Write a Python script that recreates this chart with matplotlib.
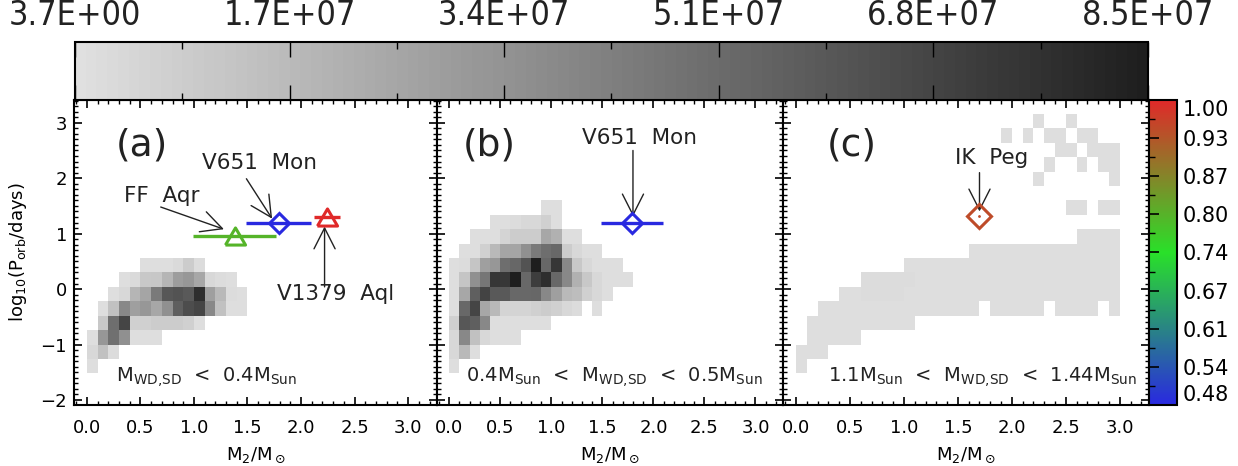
import numpy as np
import matplotlib
matplotlib.use('Agg')
import matplotlib.pyplot as plt
from matplotlib import font_manager as fm
from matplotlib.colors import ListedColormap, LinearSegmentedColormap, Normalize
from matplotlib.cm import ScalarMappable
from matplotlib.ticker import MultipleLocator, FixedLocator

plt.rcParams['font.family'] = ['DejaVu Sans']
plt.rcParams['mathtext.fontset'] = 'dejavusans'

# ---- binning of the 2D histograms ----
x_edges = np.linspace(0.0, 3.0, 31)                 # M2 bins, 0.1 wide
y_edges = -1.52 + 0.26 * np.arange(19)              # log10 Porb bins

# counts in units of 1e7, one list per log P row (from bottom), starting at column *_first
a_first = [0, 0, 0, 1, 1, 2, 3, 5]
a_counts = [
    [0.1],
    [0.35, 1.42, 0.18],
    [0.1, 3.19, 4.87, 3.54, 0.1, 0.1, 0.1],
    [1.06, 4.96, 6.73, 0.71, 0.71, 0.89, 0.89, 0.89, 0.71, 0.1],
    [0.1, 1.42, 3.9, 2.83, 3.19, 2.48, 3.54, 5.67, 6.38, 6.73, 3.9, 1.42, 0.1, 0.1],
    [0.1, 0.35, 1.9, 2.61, 4.5, 6.02, 6.15, 5.93, 7.79, 2.83, 1.77, 0.18, 0.1],
    [0.1, 0.27, 1.06, 1.15, 1.9, 2.92, 3.19, 2.48, 0.35, 0.18, 0.1],
    [0.1, 0.1, 0.1, 0.27, 0.89, 0.18],
]

b_first = [0, 0, 0, 0, 0, 0, 0, 0, 1, 2, 4, 9]
b_counts = [
    [0.1],
    [0.35, 1.77, 0.1],
    [0.35, 3.9, 1.42, 0.35, 0.1, 0.1, 0.1],
    [0.71, 6.02, 5.67, 3.9, 0.1, 0.1, 0.1, 0.1, 0.1, 0.1],
    [0.1, 5.22, 6.73, 2.48, 1.77, 0.53, 0.53, 0.53, 0.71, 0.89, 0.71, 0.35, 0.18, 0, 0.1],
    [0.1, 2.48, 5.67, 6.86, 5.93, 5.93, 5.22, 5.22, 5.31, 3.9, 2.83, 1.77, 1.59, 0.71, 0.35, 0.1],
    [0.1, 1.24, 3.54, 4.6, 7.44, 7.35, 8.5, 5.22, 7.08, 7.79, 5.22, 3.9, 2.12, 1.06, 0.35, 0.1, 0.1, 0.1],
    [0.1, 0.18, 1.24, 2.83, 3.19, 4.96, 5.31, 6.15, 8.5, 5.31, 7.44, 3.9, 1.06, 0.35, 0.1, 0.1, 0.1],
    [0.1, 0.1, 0.71, 1.77, 2.61, 2.61, 3.54, 4.5, 4.96, 5.22, 0.89, 0.35, 0.1, 0.1],
    [0.1, 0.1, 0.1, 0.53, 0.89, 0.89, 0.89, 2.48, 2.12, 0.1, 0.1],
    [0.1, 0.1, 0.18, 0.35, 0.35, 0.71, 0.1],
    [0.1, 0.1],
]

# panel (c): occupied column runs per row, all at the lowest level
c_runs = [
    [(0, 0)], [(0, 2)], [(1, 5)], [(1, 10)],
    [(2, 16), (18, 22), (24, 27), (29, 29)],
    [(4, 29)], [(6, 29)], [(10, 29)], [(16, 29)], [(26, 29)],
    [], [(25, 26), (28, 29)], [], [(22, 22), (29, 29)],
    [(23, 23), (26, 26), (28, 29)], [(24, 25), (27, 29)],
    [(19, 19), (21, 21), (23, 24), (26, 27)], [(22, 22), (25, 25)],
]
c_level = 0.1
c_darker = [(5, 6), (5, 7), (5, 8), (5, 9), (6, 6), (6, 7), (6, 8), (6, 9), (6, 10)]

# ---- observed systems ----
obj_names = ['FF  Aqr', 'V651  Mon', 'V1379  Aql', 'IK  Peg']
obj_m2 = [1.38, 1.79, 2.24, 1.70]
obj_m2err = [0.39, 0.30, 0.12, 0.0]
obj_logp = [0.96, 1.20, 1.30, 1.32]
obj_cval = [0.80, 0.476, 1.0, 0.95]
obj_marker = ['tri', 'D', 'tri', 'D']

cnt_vmin, cnt_vmax = 3.7, 8.5e7
mass_vmin, mass_vmax = 0.476, 1.0
mass_ticklabels = ['0.48', '0.54', '0.61', '0.67', '0.74', '0.80', '0.87', '0.93', '1.00']
panel_tags = ['(a)', '(b)', '(c)']
panel_notes = [r'M$_{\rm WD{,}SD}$  <  0.4M$_{\rm Sun}$',
               r'0.4M$_{\rm Sun}$  <  M$_{\rm WD{,}SD}$  <  0.5M$_{\rm Sun}$',
               r'1.1M$_{\rm Sun}$  <  M$_{\rm WD{,}SD}$  <  1.44M$_{\rm Sun}$']


def build_grid(first, counts):
    g = np.full((len(y_edges) - 1, len(x_edges) - 1), np.nan)
    for k, (c0, row) in enumerate(zip(first, counts)):
        for j, v in enumerate(row):
            if v > 0:
                g[k, c0 + j] = v * 1e7
    return g


grid_a = build_grid(a_first, a_counts)
grid_b = build_grid(b_first, b_counts)
grid_c = np.full((len(y_edges) - 1, len(x_edges) - 1), np.nan)
for k, runs in enumerate(c_runs):
    for c0, c1 in runs:
        grid_c[k, c0:c1 + 1] = c_level * 1e7
for k, c in c_darker:
    grid_c[k, c] = 0.2e7

levels = np.linspace(224, 30, 100) / 255.0
gray_cmap = ListedColormap([(l, l, l) for l in levels])
cnt_norm = Normalize(cnt_vmin, cnt_vmax)
mass_cmap = LinearSegmentedColormap.from_list(
    'bgr', [(0.16, 0.16, 0.88), (0.16, 0.88, 0.16), (0.88, 0.16, 0.16)])
mass_norm = Normalize(mass_vmin, mass_vmax)

# narrow font for the big colour bar labels, if one is installed
names = set(f.name for f in fm.fontManager.ttflist)
condensed = [f for f in fm.fontManager.ttflist if f.name == 'DejaVu Sans' and 'ondensed' in f.fname]
if 'Liberation Sans Narrow' in names:
    top_font, top_size, top_stretch = 'Liberation Sans Narrow', 26, 'normal'
elif condensed:
    top_font, top_size, top_stretch = 'DejaVu Sans', 24.5, 'condensed'
else:
    top_font, top_size, top_stretch = 'DejaVu Sans', 19.5, 'normal'

W, H = 1238, 466
fig = plt.figure(figsize=(W / 100, H / 100), dpi=100)


def box(x0, x1, y0, y1):
    return [x0 / W, 1 - y1 / H, (x1 - x0) / W, (y1 - y0) / H]


axa = fig.add_axes(box(74, 437, 100, 405))
axb = fig.add_axes(box(437, 783, 100, 405))
axc = fig.add_axes(box(783, 1149, 100, 405))
cax_r = fig.add_axes(box(1149, 1177, 100, 405))
cax_t = fig.add_axes(box(75, 1148, 42, 100))

txt = '#222222'
for i, (ax, grid) in enumerate(zip([axa, axb, axc], [grid_a, grid_b, grid_c])):
    ax.pcolormesh(x_edges, y_edges, np.ma.masked_invalid(grid), cmap=gray_cmap, norm=cnt_norm)
    ax.set_xlim(-0.12, 3.27)
    ax.set_ylim(-2.09, 3.41)
    ax.xaxis.set_major_locator(MultipleLocator(0.5))
    ax.xaxis.set_minor_locator(MultipleLocator(0.1))
    ax.yaxis.set_major_locator(MultipleLocator(1))
    ax.yaxis.set_minor_locator(MultipleLocator(0.1))
    ax.tick_params(which='both', direction='in', top=True, right=True, colors='black')
    ax.tick_params(which='major', length=6, width=1.2)
    ax.tick_params(which='minor', length=3, width=1.0)
    ax.tick_params(axis='x', labelsize=13, pad=10)
    ax.tick_params(axis='y', labelsize=13, pad=5)
    ax.xaxis.set_major_formatter(plt.FormatStrFormatter('%.1f'))
    for s in ax.spines.values():
        s.set_linewidth(1.5)
    if i > 0:
        ax.tick_params(axis='y', labelleft=False)
    ax.set_xlabel(r'M$_2$/M$_\odot$', fontsize=13, labelpad=6)
    ax.text([0.51, 0.39, 0.52][i], 2.59, panel_tags[i], fontsize=27, color=txt,
            ha='center', va='center')

axa.set_ylabel(r'log$_{10}$(P$_{\rm orb}$/days)', fontsize=13, labelpad=8)
axa.yaxis.set_major_formatter(plt.FuncFormatter(lambda v, p: '%d' % v if v >= 0 else '\u2212%d' % -v))

# notes at the bottom
axa.text(0.27, -1.59, panel_notes[0], fontsize=14, color=txt, ha='left', va='center')
axb.text(0.16, -1.59, panel_notes[1], fontsize=14, color=txt, ha='left', va='center')
axc.text(0.30, -1.59, panel_notes[2], fontsize=14, color=txt, ha='left', va='center')

# triangle centred on its data point
tri_marker = [(-1, -0.85), (1, -0.85), (0, 0.85), (-1, -0.85)]


def draw_obj(ax, j, size):
    col = mass_cmap(mass_norm(obj_cval[j]))
    if obj_m2err[j] > 0:
        ax.errorbar(obj_m2[j], obj_logp[j], xerr=obj_m2err[j], fmt='none', ecolor=col,
                    elinewidth=2.4, capsize=0, zorder=4)
    mk = tri_marker if obj_marker[j] == 'tri' else obj_marker[j]
    ax.plot(obj_m2[j], obj_logp[j], marker=mk, ms=size, mfc='none', mec=col,
            mew=2.2, ls='none', zorder=5)


arrow_kw = dict(arrowstyle='->,head_length=0.75,head_width=0.38', color='#222222', lw=1.0,
                mutation_scale=20, shrinkA=0, shrinkB=0)

# panel (a)
draw_obj(axa, 0, 14.5)
draw_obj(axa, 1, 10.5)
draw_obj(axa, 2, 14.5)
axa.text(0.70, 1.67, obj_names[0], fontsize=15.5, color=txt, ha='center', va='center')
axa.annotate('', xy=(1.28, 1.08), xytext=(0.69, 1.48), arrowprops=arrow_kw)
axa.text(1.61, 2.28, obj_names[1], fontsize=15.5, color=txt, ha='center', va='center')
axa.annotate('', xy=(1.73, 1.27), xytext=(1.49, 1.99), arrowprops=arrow_kw)
axa.text(2.32, -0.09, obj_names[2], fontsize=15.5, color=txt, ha='center', va='center')
axa.annotate('', xy=(2.22, 1.13), xytext=(2.22, 0.04), arrowprops=arrow_kw)

# panel (b)
draw_obj(axb, 1, 10.5)
axb.text(1.86, 2.73, obj_names[1], fontsize=15.5, color=txt, ha='center', va='center')
axb.annotate('', xy=(1.80, 1.31), xytext=(1.80, 2.50), arrowprops=arrow_kw)

# panel (c)
draw_obj(axc, 3, 12)
axc.plot(obj_m2[3], obj_logp[3], marker='.', ms=2, color=mass_cmap(mass_norm(obj_cval[3])), zorder=6)
axc.text(1.81, 2.37, obj_names[3], fontsize=15.5, color=txt, ha='center', va='center')
axc.annotate('', xy=(1.70, 1.40), xytext=(1.70, 2.10), arrowprops=arrow_kw)

# right colour bar (white dwarf mass)
cb_r = fig.colorbar(ScalarMappable(norm=mass_norm, cmap=mass_cmap), cax=cax_r)
r_ticks = np.linspace(mass_vmin, mass_vmax, len(mass_ticklabels))
cb_r.set_ticks(r_ticks)
cb_r.set_ticklabels(mass_ticklabels)
cax_r.yaxis.set_minor_locator(FixedLocator((r_ticks[:-1] + r_ticks[1:]) / 2))
cax_r.tick_params(which='both', left=True, right=False, labelleft=False, labelright=True,
                  direction='in', labelsize=15, pad=4, colors='black')
cax_r.tick_params(which='major', length=7, width=1.2)
cax_r.tick_params(which='minor', length=4, width=1.0)
cb_r.outline.set_linewidth(1.5)
mt = cax_r.yaxis.get_major_ticks()
mt[0].label2.set_va('bottom')
mt[-1].label2.set_va('top')

# top colour bar (counts)
cb_t = fig.colorbar(ScalarMappable(norm=cnt_norm, cmap=gray_cmap), cax=cax_t, orientation='horizontal')
t_ticks = np.linspace(cnt_vmin, cnt_vmax, 6)
cb_t.set_ticks(t_ticks)
cb_t.set_ticklabels(['%.1E' % v for v in t_ticks])
cax_t.xaxis.set_minor_locator(FixedLocator(np.linspace(cnt_vmin, cnt_vmax, 11)))
cax_t.xaxis.set_ticks_position('both')
cax_t.tick_params(which='both', direction='in', labeltop=True, labelbottom=False,
                  colors='black', pad=7)
cax_t.tick_params(which='major', length=11, width=1.0)
cax_t.tick_params(which='minor', length=5, width=1.0)
for tk in cax_t.xaxis.get_major_ticks():
    tk.label2.set_fontsize(top_size)
    tk.label2.set_family(top_font)
    tk.label2.set_fontstretch(top_stretch)
    tk.label2.set_color('#222222')
cb_t.outline.set_linewidth(1.5)

fig.savefig('out.png', dpi=100)
